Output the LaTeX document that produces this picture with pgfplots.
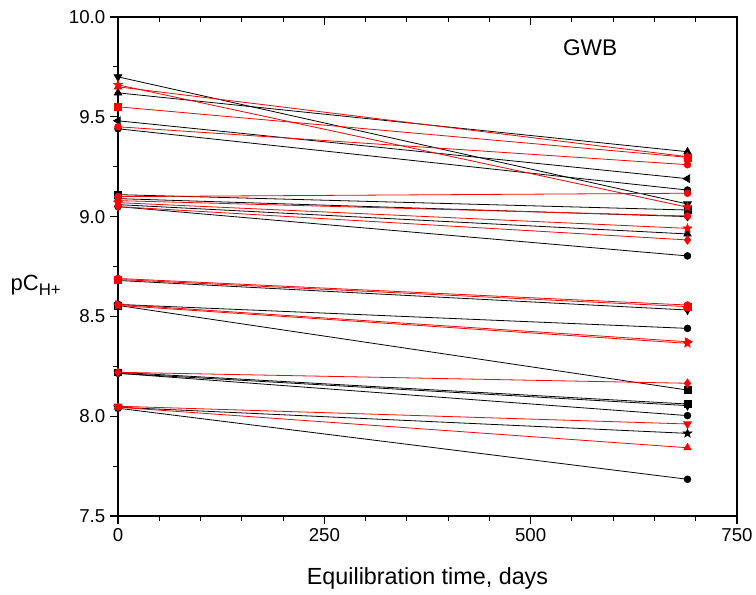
\documentclass[border=0pt]{standalone}
\usepackage{fontspec}
\setmainfont{Liberation Sans}
\usepackage{pgfplots}
\pgfplotsset{compat=1.18}
\pgfdeclareplotmark{fstar}{%
  \pgfpathmoveto{\pgfpointpolar{90}{1.35\pgfplotmarksize}}%
  \pgfpathlineto{\pgfpointpolar{126}{0.55\pgfplotmarksize}}%
  \pgfpathlineto{\pgfpointpolar{162}{1.35\pgfplotmarksize}}%
  \pgfpathlineto{\pgfpointpolar{198}{0.55\pgfplotmarksize}}%
  \pgfpathlineto{\pgfpointpolar{234}{1.35\pgfplotmarksize}}%
  \pgfpathlineto{\pgfpointpolar{270}{0.55\pgfplotmarksize}}%
  \pgfpathlineto{\pgfpointpolar{306}{1.35\pgfplotmarksize}}%
  \pgfpathlineto{\pgfpointpolar{342}{0.55\pgfplotmarksize}}%
  \pgfpathlineto{\pgfpointpolar{18}{1.35\pgfplotmarksize}}%
  \pgfpathlineto{\pgfpointpolar{54}{0.55\pgfplotmarksize}}%
  \pgfpathclose\pgfusepathqfillstroke}
\pgfplotsset{
  bl/.style={black, line width=0.6pt, mark size=2.6pt, mark options={solid, fill=black, line width=0.4pt}},
  rd/.style={red, line width=0.6pt, mark size=2.6pt, mark options={solid, fill=red, line width=0.4pt}},
  up/.style={mark=triangle*, mark size=3.3pt},
  dn/.style={mark=triangle*, mark size=3.3pt, mark options={rotate=180}},
  lt/.style={mark=triangle*, mark size=3.3pt, mark options={rotate=90}},
  rt/.style={mark=triangle*, mark size=3.3pt, mark options={rotate=-90}},
  dm/.style={mark=diamond*, mark size=3.3pt},
}
\begin{document}
\begin{tikzpicture}
\begin{axis}[name=ax,
  width=464.25pt, height=374.25pt, scale only axis,
  xmin=0, xmax=750, ymin=7.5, ymax=10,
  xtick={0,250,500,750}, minor x tick num=4,
  ytick={7.5,8.0,8.5,9.0,9.5,10.0}, minor y tick num=1,
  tick align=outside, xtick pos=bottom, ytick pos=left,
  major tick length=6pt, minor tick length=3.5pt,
  axis line style={line width=0.9pt},
  every tick/.style={black, line width=0.8pt},
  yticklabel style={/pgf/number format/.cd, fixed, fixed zerofill, precision=1},
  /pgf/number format/assume math mode=true,
  ticklabel style={font=\fontsize{14}{16}\selectfont},
  xlabel={Equilibration time, days},
  every axis x label/.style={at={(axis description cs:0.5,-0.126)}, anchor=center, font=\fontsize{17.5}{20}\selectfont},
  clip=false,
]
% black series
\addplot[bl, dn] coordinates {(0,9.70) (690,9.063)};
\addplot[bl, up] coordinates {(0,9.62) (690,9.325)};
\addplot[bl, lt] coordinates {(0,9.48) (690,9.19)};
\addplot[bl, mark=*] coordinates {(0,9.44) (690,9.133)};
\addplot[bl, mark=square*] coordinates {(0,9.11) (690,9.033)};
\addplot[bl, dm] coordinates {(0,9.09) (690,9.00)};
\addplot[bl, up] coordinates {(0,9.06) (690,8.913)};
\addplot[bl, mark=*] coordinates {(0,9.05) (690,8.803)};
\addplot[bl, dn] coordinates {(0,8.68) (690,8.532)};
\addplot[bl, mark=*] coordinates {(0,8.56) (690,8.44)};
\addplot[bl, mark=square*] coordinates {(0,8.555) (690,8.131)};
\addplot[bl, mark=square*] coordinates {(0,8.22) (690,8.061)};
\addplot[bl, dn] coordinates {(0,8.215) (690,8.053)};
\addplot[bl, mark=*] coordinates {(0,8.215) (690,8.003)};
\addplot[bl, mark=fstar] coordinates {(0,8.045) (690,7.914)};
\addplot[bl, mark=*] coordinates {(0,8.04) (690,7.684)};
% red series
\addplot[rd, mark=fstar] coordinates {(0,9.66) (690,9.047)};
\addplot[rd, up] coordinates {(0,9.65) (690,9.30)};
\addplot[rd, mark=square*] coordinates {(0,9.55) (690,9.297)};
\addplot[rd, mark=*] coordinates {(0,9.45) (690,9.26)};
\addplot[rd, mark=*] coordinates {(0,9.10) (690,9.117)};
\addplot[rd, mark=*] coordinates {(0,9.08) (690,9.003)};
\addplot[rd, mark=fstar] coordinates {(0,9.07) (690,8.941)};
\addplot[rd, dm] coordinates {(0,9.05) (690,8.883)};
\addplot[rd, mark=*] coordinates {(0,8.69) (690,8.557)};
\addplot[rd, mark=square*] coordinates {(0,8.685) (690,8.549)};
\addplot[rd, rt] coordinates {(0,8.56) (690,8.373)};
\addplot[rd, mark=fstar] coordinates {(0,8.555) (690,8.365)};
\addplot[rd, dm] coordinates {(0,8.22) (690,8.165)};
\addplot[rd, dn] coordinates {(0,8.05) (690,7.961)};
\addplot[rd, up] coordinates {(0,8.045) (690,7.842)};
\node[font=\fontsize{17}{19}\selectfont] at (axis cs:572,9.845) {GWB};
\node[anchor=east, font=\fontsize{16.5}{19}\selectfont, inner sep=0pt] at (rel axis cs:-0.092,0.462) {pC\raisebox{-0.45ex}{\fontsize{12.6}{14}\selectfont H+}};
\end{axis}
\begin{axis}[
  width=464.25pt, height=374.25pt, scale only axis,
  xmin=0, xmax=750, ymin=7.5, ymax=10,
  axis x line*=top, axis y line=none,
  xtick={0,250,500,750}, minor x tick num=4, xticklabels={},
  tick align=inside, major tick length=6pt, minor tick length=3.5pt,
  axis line style={line width=0.9pt},
  every tick/.style={black, line width=0.8pt},
]
\end{axis}
\pgfresetboundingbox
\path[use as bounding box] ([xshift=-88.5pt,yshift=-58.5pt]ax.south west) rectangle ([xshift=14.25pt,yshift=12.75pt]ax.north east);
\end{tikzpicture}
\end{document}
